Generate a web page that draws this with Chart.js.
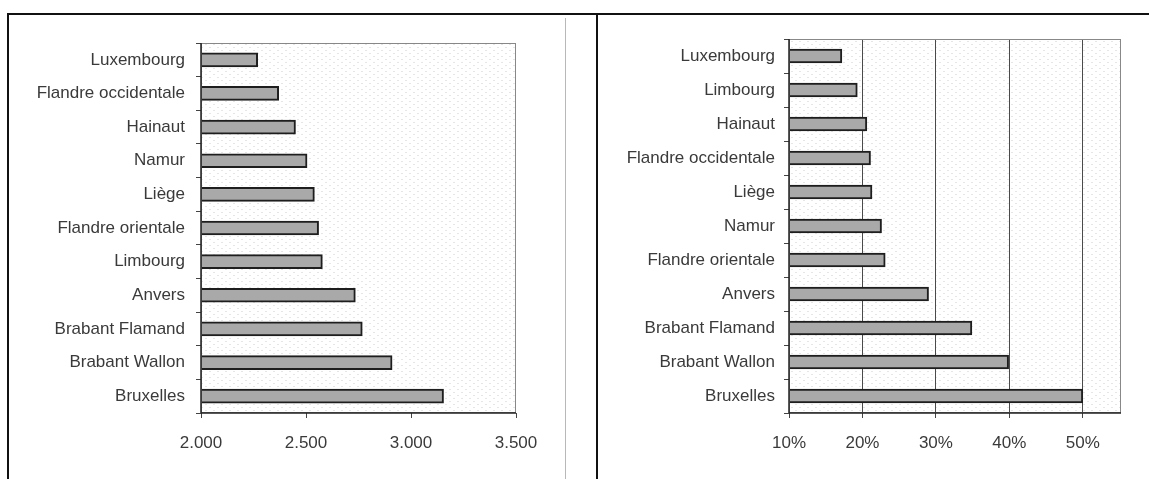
<!DOCTYPE html>
<html><head><meta charset="utf-8">
<script src="https://cdn.jsdelivr.net/npm/chart.js@4.4.1/dist/chart.umd.min.js"></script>
<style>
html,body{margin:0;padding:0;background:#fff;width:1149px;height:479px;overflow:hidden;}
.ln{position:absolute;}
#c1wrap{position:absolute;left:8px;top:15px;width:557px;height:464px;}
#c2wrap{position:absolute;left:598px;top:15px;width:551px;height:464px;}
</style></head><body>
<div class="ln" style="left:8px;top:13px;width:1141px;height:2px;background:#111"></div>
<div class="ln" style="left:7px;top:13px;width:2px;height:466px;background:#111"></div>
<div class="ln" style="left:596px;top:13px;width:2px;height:466px;background:#111"></div>
<div class="ln" style="left:565px;top:18px;width:1px;height:461px;background:#b8b8b8"></div>
<div id="c1wrap"><canvas id="c1"></canvas></div>
<div id="c2wrap"><canvas id="c2"></canvas></div>
<script>
// Left chart: values
const leftCategories = ["Luxembourg","Flandre occidentale","Hainaut","Namur","Liège","Flandre orientale","Limbourg","Anvers","Brabant Flamand","Brabant Wallon","Bruxelles"];
const leftValues = [2270,2370,2450,2505,2540,2560,2578,2735,2768,2910,3155];
const leftTicks = [2000,2500,3000,3500];

// Right chart: shares
const rightCategories = ["Luxembourg","Limbourg","Hainaut","Flandre occidentale","Liège","Namur","Flandre orientale","Anvers","Brabant Flamand","Brabant Wallon","Bruxelles"];
const rightValues = [0.172,0.193,0.206,0.211,0.213,0.226,0.231,0.290,0.349,0.399,0.500];
const rightTicks = [0.1,0.2,0.3,0.4,0.5];

const FONT = {family:"'Liberation Sans', Arial, sans-serif", size:17};
const TXT = '#3a3a3a';

function makePattern(){
  const p = document.createElement('canvas'); p.width=8; p.height=6;
  const g = p.getContext('2d');
  g.fillStyle='#fff'; g.fillRect(0,0,8,6);
  g.fillStyle='#e6e6e6'; g.fillRect(1,2,2,1); g.fillRect(5,5,2,1);
  return p;
}
const patCanvas = makePattern();

const bgPlugin = {
  id:'plotbg',
  beforeDraw(chart){
    const {ctx, chartArea:a} = chart;
    ctx.save();
    ctx.fillStyle = ctx.createPattern(patCanvas,'repeat');
    ctx.fillRect(a.left,a.top,a.right-a.left,a.bottom-a.top);
    ctx.restore();
  },
  afterDatasetsDraw(chart){
    const {ctx, chartArea:a} = chart;
    ctx.save();
    ctx.strokeStyle='#888'; ctx.lineWidth=1;
    ctx.strokeRect(a.left+0.5,a.top+0.5,a.right-a.left-1,a.bottom-a.top-1);
    ctx.strokeStyle='#222'; ctx.lineWidth=1.5;
    ctx.beginPath(); ctx.moveTo(a.left,a.bottom); ctx.lineTo(a.right,a.bottom);
    ctx.moveTo(a.left,a.top); ctx.lineTo(a.left,a.bottom); ctx.stroke();
    ctx.restore();
  }
};

function build(id, cats, vals, ticks, opt){
  return new Chart(document.getElementById(id), {
    type:'bar',
    data:{labels:cats, datasets:[{data:vals, backgroundColor:'#a9a9a9', borderColor:'#1e1e1e', borderWidth:2, borderSkipped:false, barThickness:14}]},
    options:{
      indexAxis:'y', responsive:true, maintainAspectRatio:false, animation:false,
      layout:{padding:{top:opt.top, right:opt.right, left:0, bottom:0}},
      plugins:{legend:{display:false}, tooltip:{enabled:false}},
      scales:{
        x:{min:opt.min, max:opt.max,
           afterBuildTicks(s){ s.ticks = ticks.map(v=>({value:v})); },
           afterFit(s){ s.height = 66; },
           ticks:{font:FONT, color:TXT, padding:15, maxRotation:0, callback:opt.fmt},
           grid:{display:true, drawOnChartArea:opt.grid, color:'#4a4a4a', lineWidth:1, tickLength:5, tickColor:'#444'},
           border:{display:false}},
        y:{afterFit(s){ s.width = opt.yw; },
           ticks:{font:FONT, color:TXT, padding:opt.ypad},
           grid:{display:true, drawOnChartArea:false, offset:true, tickLength:5, tickColor:'#444'},
           border:{display:false}}
      }
    },
    plugins:[bgPlugin]
  });
}

build('c1', leftCategories, leftValues, leftTicks, {min:2000,max:3500,top:28,right:49,yw:193,grid:false,ypad:11,
  fmt:v=>{ const s=String(v); return s.length>3 ? s.slice(0,s.length-3)+'.'+s.slice(-3) : s; }});
build('c2', rightCategories, rightValues, rightTicks, {min:0.1,max:0.552,top:24,right:28,yw:191,grid:true,ypad:9,
  fmt:v=>Math.round(v*100)+'%'});
</script>
</body></html>
